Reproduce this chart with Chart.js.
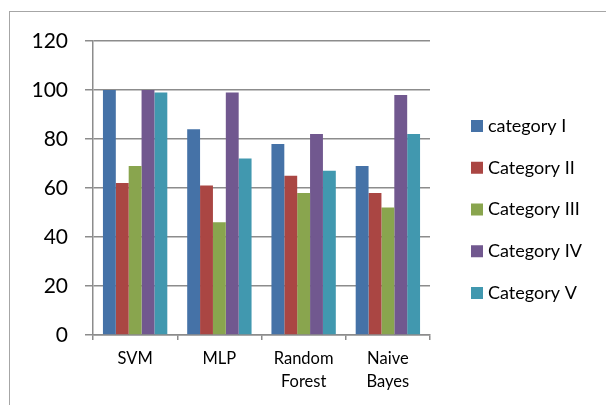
<!DOCTYPE html>
<html>
<head>
<meta charset="utf-8">
<script src="https://cdn.jsdelivr.net/npm/chart.js@4"></script>
<style>
html,body{margin:0;padding:0;background:#fff;overflow:hidden;width:606px;height:405px;}
#frame{position:absolute;left:9px;top:11px;width:700px;height:500px;border-left:1px solid #a6a6a6;border-top:1px solid #a6a6a6;}
#wrap{position:absolute;left:0;top:0;width:606px;height:405px;}
</style>
</head>
<body>
<div id="frame"></div>
<div id="wrap"><canvas id="c" width="606" height="405"></canvas></div>
<script>
const categories = [["SVM"], ["MLP"], ["Random", "Forest"], ["Naive", "Bayes"]];
const seriesNames = ["category I", "Category II", "Category III", "Category IV", "Category V"];
const catI   = [100, 84, 78, 69];
const catII  = [62, 61, 65, 58];
const catIII = [69, 46, 58, 52];
const catIV  = [100, 99, 82, 98];
const catV   = [99, 72, 67, 82];
const yTicks = [0, 20, 40, 60, 80, 100, 120];
const colors = ["#4572A7", "#AA4643", "#89A54E", "#71588F", "#4198AF"];

const seriesValues = [catI, catII, catIII, catIV, catV];
const FONT = "Lato, 'Open Sans', sans-serif";

const legendPlugin = {
  id: 'sideLegend',
  afterDraw(chart) {
    const ctx = chart.ctx;
    ctx.save();
    ctx.font = "18px " + FONT;
    ctx.textBaseline = "middle";
    ctx.textAlign = "left";
    chart.data.datasets.forEach((ds, i) => {
      const y = 126 + i * 41.75;
      ctx.fillStyle = ds.backgroundColor;
      ctx.fillRect(471, y - 6, 12, 12);
      ctx.fillStyle = "#000";
      ctx.fillText(ds.label, 488, y);
    });
    ctx.restore();
  }
};

new Chart(document.getElementById('c'), {
  type: 'bar',
  data: {
    labels: categories,
    datasets: seriesNames.map((n, i) => ({
      label: n,
      data: seriesValues[i],
      backgroundColor: colors[i],
      borderWidth: 0,
      categoryPercentage: 0.764,
      barPercentage: 1.0
    }))
  },
  options: {
    responsive: false,
    animation: false,
    devicePixelRatio: 1,
    layout: { padding: { left: 0, top: 41, right: 176, bottom: 0 } },
    plugins: { legend: { display: false }, tooltip: { enabled: false } },
    scales: {
      x: {
        grid: { display: true, drawOnChartArea: false, offset: true, tickLength: 5, color: "#8c8c8c", lineWidth: 1.5 },
        border: { display: true, color: "#8c8c8c", width: 1.5 },
        ticks: { color: "#000", font: { family: FONT, size: 16.5, lineHeight: 1.35 }, padding: 8, maxRotation: 0, autoSkip: false },
        afterFit(scale) { scale.height = 70; }
      },
      y: {
        min: 0, max: 120,
        afterBuildTicks(scale) { scale.ticks = yTicks.map(v => ({ value: v })); },
        grid: { color: "#8c8c8c", lineWidth: 1.5, tickLength: 8 },
        border: { display: true, color: "#8c8c8c", width: 1.5 },
        ticks: { color: "#000", font: { family: FONT, size: 21 }, padding: 17 },
        afterFit(scale) { scale.width = 93; }
      }
    }
  },
  plugins: [legendPlugin]
});
</script>
</body>
</html>
